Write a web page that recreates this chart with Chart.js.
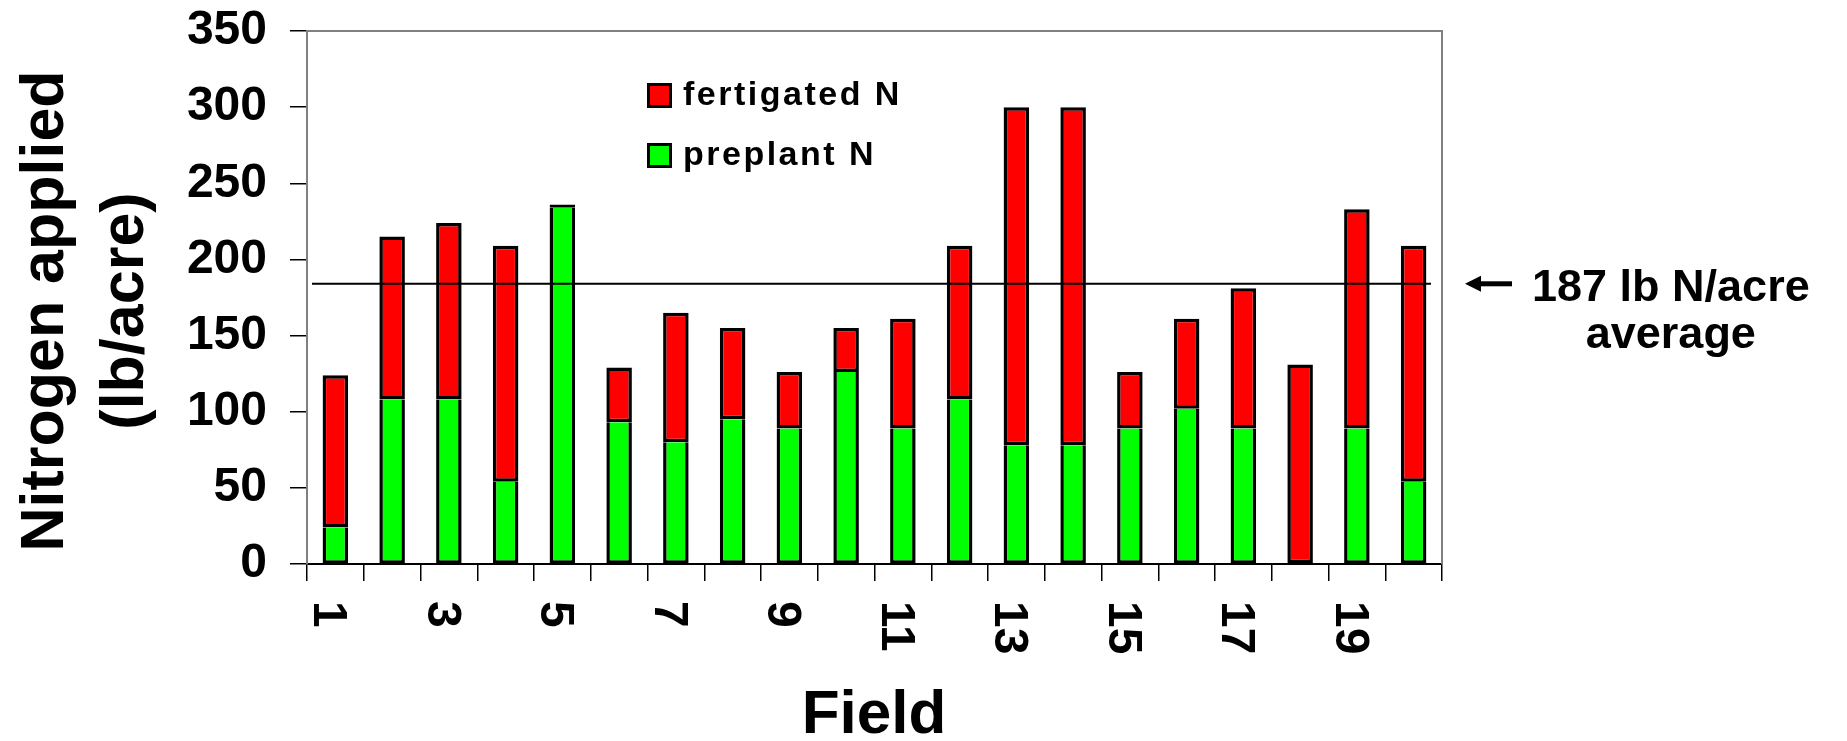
<!DOCTYPE html>
<html>
<head>
<meta charset="utf-8">
<script src="https://cdn.jsdelivr.net/npm/chart.js@4.4.1/dist/chart.umd.min.js"></script>
<style>
  html, body { margin: 0; padding: 0; background: #fff; }
  #wrap { width: 1847px; height: 741px; }
</style>
</head>
<body>
<div id="wrap"><canvas id="chart" width="1847" height="741"></canvas></div>
<script>
// data
const fields = ['1','2','3','4','5','6','7','8','9','10','11','12','13','14','15','16','17','18','19','20'];
const preplantN   = [24,108,108,54,234,93,80,95,89,126,89,108,78,78,89,102,89,0,89,54];
const fertigatedN = [100,107,116,155,2,36,85,60,37,29,72,101,222,222,37,59,92,131,144,155];
const yMin = 0, yMax = 350, yStep = 50;
const avgLine = 184;
const avgText = ['187 lb N/acre', 'average'];
const yTitle = ['Nitrogen applied', '(lb/acre)'];
const xTitle = 'Field';

const FONT = "'Liberation Sans', Arial, sans-serif";
Chart.defaults.font.family = FONT;
Chart.defaults.color = '#000';

// titles, x labels (rotated clockwise), legend, average line
const extras = {
  id: 'extras',
  afterDatasetsDraw(chart) {
    const ctx = chart.ctx, a = chart.chartArea;
    const x = chart.scales.x, y = chart.scales.y;
    ctx.save();

    // frame top + right
    ctx.strokeStyle = '#808080';
    ctx.lineWidth = 2;
    ctx.beginPath();
    ctx.moveTo(a.left, a.top);
    ctx.lineTo(a.right, a.top);
    ctx.lineTo(a.right, a.bottom);
    ctx.stroke();

    // average line
    const ay = y.getPixelForValue(avgLine);
    ctx.strokeStyle = '#000';
    ctx.lineWidth = 2;
    ctx.beginPath();
    ctx.moveTo(a.left + 5, ay);
    ctx.lineTo(a.right - 11, ay);
    ctx.stroke();

    // arrow + label
    ctx.fillStyle = '#000';
    ctx.fillRect(1476, ay - 2.5, 36, 5);
    ctx.beginPath();
    ctx.moveTo(1465, ay);
    ctx.lineTo(1481, ay - 8);
    ctx.lineTo(1481, ay + 8);
    ctx.closePath();
    ctx.fill();
    ctx.font = 'bold 45px ' + FONT;
    ctx.textBaseline = 'alphabetic';
    ctx.textAlign = 'left';
    ctx.fillText(avgText[0], 1532, ay + 17);
    const w0 = ctx.measureText(avgText[0]).width;
    ctx.textAlign = 'center';
    ctx.fillText(avgText[1], 1532 + w0 / 2, ay + 64);

    // x labels, every other field
    ctx.font = 'bold 48px ' + FONT;
    ctx.textAlign = 'left';
    for (let i = 0; i < fields.length; i += 2) {
      const cx = x.getPixelForValue(i);
      ctx.save();
      ctx.translate(cx - 21, a.bottom + 37);
      ctx.rotate(Math.PI / 2);
      ctx.fillText(fields[i], 0, 0);
      ctx.restore();
    }

    // x title
    ctx.font = 'bold 62px ' + FONT;
    ctx.textAlign = 'center';
    ctx.fillText(xTitle, 874, 733);

    // y title
    ctx.font = 'bold 61px ' + FONT;
    ctx.save();
    ctx.translate(63, 311);
    ctx.rotate(-Math.PI / 2);
    ctx.fillText(yTitle[0], 0, 0);
    ctx.fillText(yTitle[1], 0, 80);
    ctx.restore();

    // legend
    const items = [chart.data.datasets[1], chart.data.datasets[0]];
    ctx.font = 'bold 34px ' + FONT;
    ctx.textAlign = 'left';
    ctx.letterSpacing = '2.5px';
    items.forEach((ds, k) => {
      const by = 83 + k * 60;
      ctx.fillStyle = ds.backgroundColor;
      ctx.fillRect(647, by, 25, 25);
      ctx.strokeStyle = '#000';
      ctx.lineWidth = 3;
      ctx.strokeRect(648.5, by + 1.5, 22, 22);
      ctx.fillStyle = '#000';
      ctx.fillText(ds.label, 683, by + 22);
    });

    ctx.restore();
  }
};

new Chart(document.getElementById('chart'), {
  type: 'bar',
  data: {
    labels: fields,
    datasets: [
      {
        label: 'preplant N',
        data: preplantN,
        backgroundColor: '#00FF00',
        borderColor: '#000',
        borderWidth: { left: 3.5, right: 3.5, bottom: 3, top: 0 },
        borderSkipped: false,
        barPercentage: 0.45,
        categoryPercentage: 1
      },
      {
        label: 'fertigated N',
        data: fertigatedN,
        backgroundColor: '#FF0000',
        borderColor: '#000',
        borderWidth: 3.5,
        borderSkipped: false,
        barPercentage: 0.45,
        categoryPercentage: 1
      }
    ]
  },
  options: {
    responsive: false,
    animation: false,
    layout: { padding: { left: 0, top: 31, right: 405, bottom: 0 } },
    plugins: {
      legend: { display: false },
      tooltip: { enabled: false }
    },
    scales: {
      x: {
        stacked: true,
        grid: { drawOnChartArea: false, offset: true, tickLength: 17, tickColor: '#000', lineWidth: 1.5 },
        border: { color: '#000', width: 2 },
        ticks: { display: false },
        afterFit(s) { s.height = 177; s.paddingLeft = 0; s.paddingRight = 0; }
      },
      y: {
        stacked: true,
        min: yMin,
        max: yMax,
        grid: { drawOnChartArea: false, tickLength: 17, tickColor: '#000', lineWidth: 1.5 },
        border: { color: '#808080', width: 2 },
        ticks: {
          stepSize: yStep,
          padding: 23,
          color: '#000',
          font: { size: 48, weight: 'bold' }
        },
        afterFit(s) { s.width = 307; s.paddingTop = 0; s.paddingBottom = 0; }
      }
    }
  },
  plugins: [extras]
});
</script>
</body>
</html>
